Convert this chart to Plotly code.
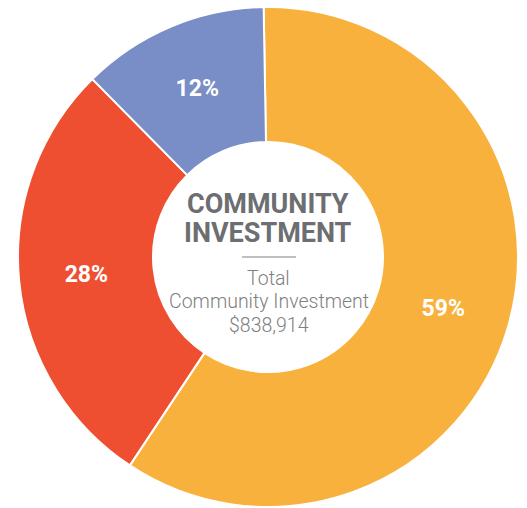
import plotly.graph_objects as go

# ---- data ----
categories = ["Category A", "Category B", "Category C"]
shares = [59, 28, 12]
slice_colors = ["#F9B13E", "#EF4F31", "#798DC6"]

title_lines = ["COMMUNITY", "INVESTMENT"]
sub_lines = ["Total", "Community Investment", "$838,914"]

W, H = 527, 508

fig = go.Figure()
fig.add_trace(go.Pie(
    labels=categories,
    values=shares,
    sort=False,
    direction="clockwise",
    rotation=-1,
    hole=0.46,
    marker=dict(colors=slice_colors, line=dict(color="white", width=2)),
    texttemplate="%{value}%",
    textposition="inside",
    insidetextorientation="horizontal",
    textfont=dict(family="Roboto", size=23, color="white", weight=700),
    hoverinfo="skip",
    domain=dict(x=[18 / W, 518 / W], y=[1 / H, 501 / H]),
))

def py(ypx):
    return (H - ypx) / H

annotations = []
for txt, ypx in zip(title_lines, [204, 233]):
    annotations.append(dict(
        text=txt, x=268 / W, y=py(ypx), xref="paper", yref="paper",
        xanchor="center", yanchor="middle", showarrow=False,
        font=dict(family="Roboto", size=27, color="#6D6E71", weight=700),
    ))
for txt, ypx in zip(sub_lines, [278, 301, 325]):
    annotations.append(dict(
        text=txt, x=269 / W, y=py(ypx), xref="paper", yref="paper",
        xanchor="center", yanchor="middle", showarrow=False,
        font=dict(family="Roboto", size=19.5, color="#808080", weight=300),
    ))

fig.update_layout(
    width=W, height=H,
    margin=dict(l=0, r=0, t=0, b=0),
    paper_bgcolor="white",
    plot_bgcolor="white",
    showlegend=False,
    annotations=annotations,
    shapes=[dict(type="line", xref="paper", yref="paper",
                 x0=242 / W, x1=296 / W, y0=py(257), y1=py(257),
                 line=dict(color="#808080", width=1))],
)

fig.write_html("out.html",
               config={"displayModeBar": False},
               post_script="document.body.style.margin='0';document.body.style.overflow='hidden';")
